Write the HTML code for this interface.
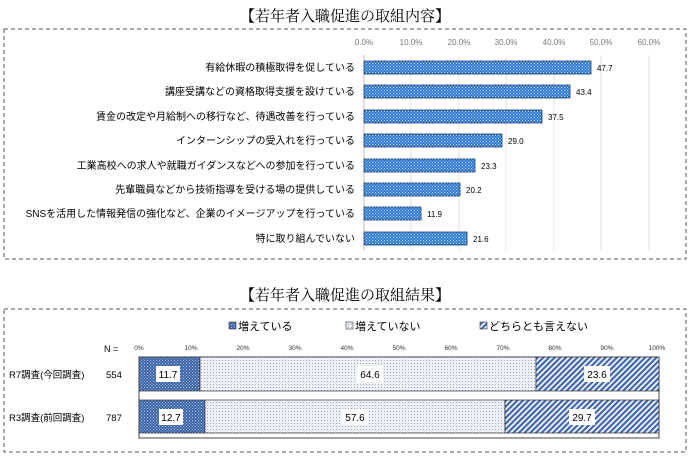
<!DOCTYPE html>
<html><head><meta charset="utf-8"><style>
body{margin:0;background:#fff}
svg text{font-family:"Liberation Sans","Noto Sans CJK JP",sans-serif}
svg text.ti{font-family:"Liberation Serif","Noto Serif CJK SC",serif}
</style></head><body>
<svg width="690" height="455" xmlns="http://www.w3.org/2000/svg">
<defs>
<pattern id="p1" width="3" height="3" patternUnits="userSpaceOnUse"><rect width="3" height="3" fill="#2a78d0"/><rect width="1" height="1" fill="#cfe2f7"/><rect x="1.5" y="1.5" width="1" height="1" fill="#cfe2f7"/></pattern>
<pattern id="p2" width="3" height="3" patternUnits="userSpaceOnUse"><rect width="3" height="3" fill="#3e64a8"/><rect width="1" height="1" fill="#a8bde0"/><rect x="1.5" y="1.5" width="1" height="1" fill="#a8bde0"/></pattern>
<pattern id="p3" width="3" height="3" patternUnits="userSpaceOnUse"><rect width="3" height="3" fill="#eef1f6"/><rect width="1" height="1" fill="#9aa6b8"/></pattern>
<pattern id="p4" width="4" height="4" patternUnits="userSpaceOnUse" patternTransform="rotate(45)"><rect width="4" height="4" fill="#e6ecf6"/><rect width="2" height="4" fill="#3e64a8"/></pattern>
</defs>
<text class="ti" x="345" y="21" font-size="15" text-anchor="middle">【若年者入職促進の取組内容】</text>
<rect x="4" y="29" width="682" height="230" fill="none" stroke="#555" stroke-dasharray="4,3"/>
<g font-size="8" fill="#777" text-anchor="middle">
<text x="364" y="45">0.0%</text><text x="411" y="45">10.0%</text><text x="459" y="45">20.0%</text><text x="506" y="45">30.0%</text><text x="554" y="45">40.0%</text><text x="601" y="45">50.0%</text><text x="649" y="45">60.0%</text></g>
<g stroke="#e2e2e2"><line x1="411" y1="55" x2="411" y2="250"/><line x1="459" y1="55" x2="459" y2="250"/><line x1="506" y1="55" x2="506" y2="250"/><line x1="554" y1="55" x2="554" y2="250"/><line x1="601" y1="55" x2="601" y2="250"/><line x1="649" y1="55" x2="649" y2="250"/></g>
<line x1="364" y1="55" x2="364" y2="250" stroke="#bbb"/>
<g font-size="10" text-anchor="end">
<text x="355" y="71">有給休暇の積極取得を促している</text>
<text x="355" y="95">講座受講などの資格取得支援を設けている</text>
<text x="355" y="120">賃金の改定や月給制への移行など、待遇改善を行っている</text>
<text x="355" y="144">インターンシップの受入れを行っている</text>
<text x="355" y="169">工業高校への求人や就職ガイダンスなどへの参加を行っている</text>
<text x="355" y="193">先輩職員などから技術指導を受ける場の提供している</text>
<text x="355" y="217">SNSを活用した情報発信の強化など、企業のイメージアップを行っている</text>
<text x="355" y="242">特に取り組んでいない</text></g>
<g fill="url(#p1)" stroke="#1f3f6e" stroke-width="0.8">
<rect x="364" y="61" width="227" height="13"/>
<rect x="364" y="85" width="206" height="13"/>
<rect x="364" y="110" width="178" height="13"/>
<rect x="364" y="134" width="138" height="13"/>
<rect x="364" y="159" width="111" height="13"/>
<rect x="364" y="183" width="96" height="13"/>
<rect x="364" y="207" width="57" height="13"/>
<rect x="364" y="232" width="103" height="13"/></g>
<g font-size="8">
<text x="597" y="71">47.7</text><text x="576" y="95">43.4</text><text x="548" y="120">37.5</text><text x="508" y="144">29.0</text><text x="481" y="169">23.3</text><text x="466" y="193">20.2</text><text x="427" y="217">11.9</text><text x="473" y="242">21.6</text></g>

<text class="ti" x="345" y="300" font-size="15" text-anchor="middle">【若年者入職促進の取組結果】</text>
<rect x="4" y="309" width="682" height="143" fill="none" stroke="#555" stroke-dasharray="4,3"/>
<g font-size="11">
<rect x="229" y="322" width="7" height="7" fill="url(#p2)" stroke="#333" stroke-width="0.6"/><text x="238" y="330">増えている</text>
<rect x="346" y="322" width="7" height="7" fill="url(#p3)" stroke="#333" stroke-width="0.6"/><text x="355" y="330">増えていない</text>
<rect x="480" y="322" width="7" height="7" fill="url(#p4)" stroke="#333" stroke-width="0.6"/><text x="489" y="330">どちらとも言えない</text></g>
<text x="104" y="352" font-size="9">N =</text>
<g font-size="6.5" text-anchor="middle" fill="#333">
<text x="139" y="350">0%</text><text x="191" y="350">10%</text><text x="243" y="350">20%</text><text x="295" y="350">30%</text><text x="347" y="350">40%</text><text x="399" y="350">50%</text><text x="451" y="350">60%</text><text x="503" y="350">70%</text><text x="555" y="350">80%</text><text x="607" y="350">90%</text><text x="657" y="350">100%</text></g>
<rect x="139" y="357" width="520" height="81" fill="#fff" stroke="#444"/>
<rect x="139" y="357" width="61" height="34" fill="url(#p2)" stroke="#333" stroke-width="0.7"/>
<rect x="200" y="357" width="336" height="34" fill="url(#p3)" stroke="#333" stroke-width="0.7"/>
<rect x="536" y="357" width="123" height="34" fill="url(#p4)" stroke="#333" stroke-width="0.7"/>
<rect x="139" y="400" width="66" height="33" fill="url(#p2)" stroke="#333" stroke-width="0.7"/>
<rect x="205" y="400" width="300" height="33" fill="url(#p3)" stroke="#333" stroke-width="0.7"/>
<rect x="505" y="400" width="154" height="33" fill="url(#p4)" stroke="#333" stroke-width="0.7"/>
<g fill="#fff"><rect x="156" y="366" width="24" height="16"/><rect x="357" y="366" width="26" height="16"/><rect x="584" y="366" width="26" height="16"/>
<rect x="159" y="409" width="24" height="16"/><rect x="342" y="409" width="26" height="16"/><rect x="569" y="409" width="26" height="16"/></g>
<g font-size="10" text-anchor="middle">
<text x="168" y="378">11.7</text><text x="370" y="378">64.6</text><text x="597" y="378">23.6</text>
<text x="171" y="421">12.7</text><text x="355" y="421">57.6</text><text x="582" y="421">29.7</text></g>
<g font-size="9.5"><text x="9" y="378">R7調査(今回調査)</text><text x="106" y="378">554</text>
<text x="9" y="421">R3調査(前回調査)</text><text x="106" y="421">787</text></g>
</svg>
</body></html>
